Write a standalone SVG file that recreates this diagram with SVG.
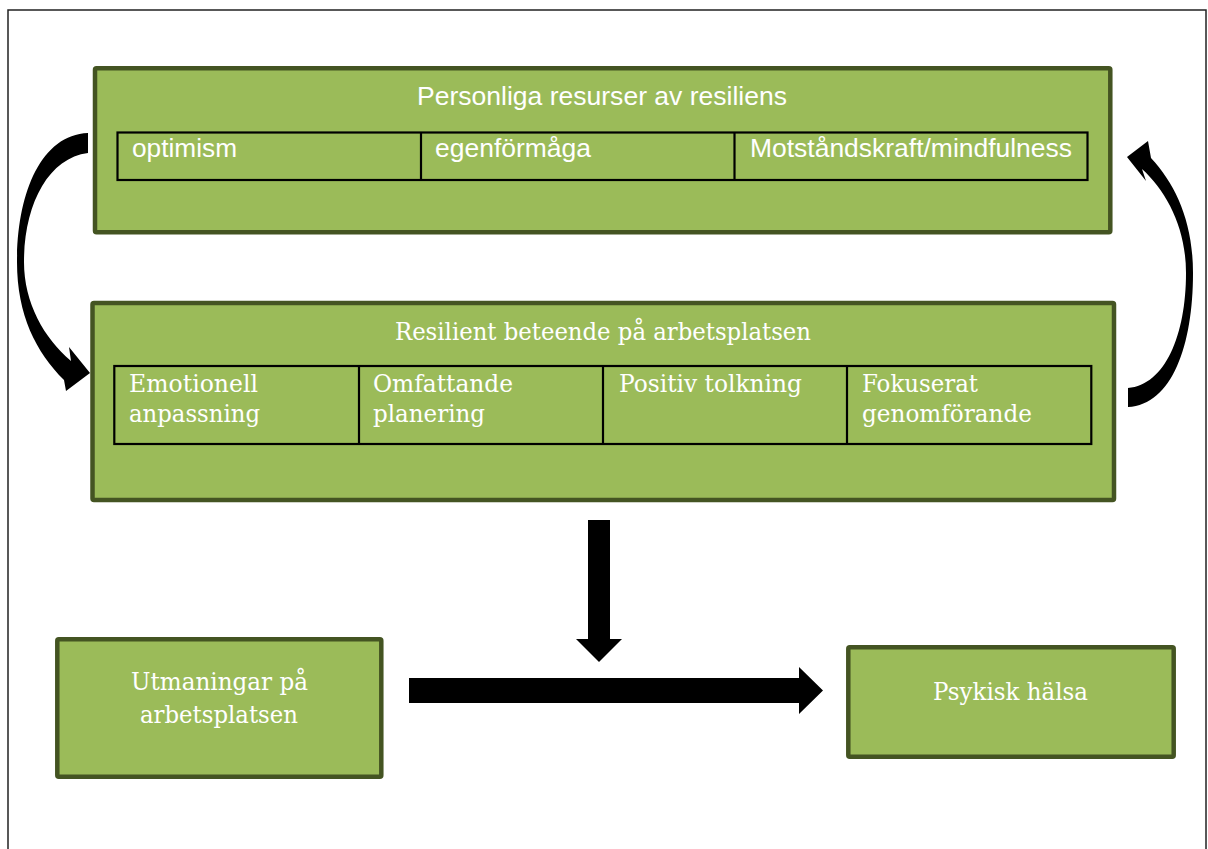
<svg xmlns="http://www.w3.org/2000/svg" width="1208" height="849" viewBox="0 0 1208 849">
<style>
.box{fill:#9BBB59;stroke:#445422;stroke-width:4.5}
.tbl{fill:none;stroke:#000;stroke-width:2.2}
.sans{font-family:"Liberation Sans",Arial,sans-serif;font-size:25px;fill:#fff}
.serif{font-family:"DejaVu Serif","Liberation Serif",serif;font-size:24px;fill:#fff}
.arr{fill:#000}
</style>
<rect x="0" y="0" width="1208" height="849" fill="#fff"/>
<rect x="8" y="10" width="1198" height="860" fill="none" stroke="#222" stroke-width="1.5"/>

<g id="personliga-resurser">
<rect class="box" x="95" y="68.3" width="1015.3" height="164" rx="1.5"/>
<text class="sans" x="417" y="105" textLength="370" lengthAdjust="spacingAndGlyphs">Personliga resurser av resiliens</text>
<rect class="tbl" x="117.5" y="132.5" width="970" height="47.5"/>
<line class="tbl" x1="421" y1="132.5" x2="421" y2="180"/>
<line class="tbl" x1="734.5" y1="132.5" x2="734.5" y2="180"/>
<text class="sans" x="132" y="157" textLength="105" lengthAdjust="spacingAndGlyphs">optimism</text>
<text class="sans" x="435" y="157" textLength="156" lengthAdjust="spacingAndGlyphs">egenförmåga</text>
<text class="sans" x="750" y="157" textLength="322" lengthAdjust="spacingAndGlyphs">Motståndskraft/mindfulness</text>
</g>

<g id="resilient-beteende">
<rect class="box" x="92.5" y="303" width="1021.5" height="197" rx="1.5"/>
<text class="serif" x="395" y="340" textLength="416" lengthAdjust="spacingAndGlyphs">Resilient beteende på arbetsplatsen</text>
<rect class="tbl" x="114.3" y="366" width="977" height="78"/>
<line class="tbl" x1="359" y1="366" x2="359" y2="444"/>
<line class="tbl" x1="603" y1="366" x2="603" y2="444"/>
<line class="tbl" x1="847" y1="366" x2="847" y2="444"/>
<text class="serif" x="129" y="392" textLength="129" lengthAdjust="spacingAndGlyphs">Emotionell</text>
<text class="serif" x="129" y="422" textLength="131" lengthAdjust="spacingAndGlyphs">anpassning</text>
<text class="serif" x="373" y="392" textLength="140" lengthAdjust="spacingAndGlyphs">Omfattande</text>
<text class="serif" x="373" y="422" textLength="112" lengthAdjust="spacingAndGlyphs">planering</text>
<text class="serif" x="619" y="392" textLength="183" lengthAdjust="spacingAndGlyphs">Positiv tolkning</text>
<text class="serif" x="862" y="392" textLength="116" lengthAdjust="spacingAndGlyphs">Fokuserat</text>
<text class="serif" x="862" y="422" textLength="170" lengthAdjust="spacingAndGlyphs">genomförande</text>
</g>

<g id="utmaningar">
<rect class="box" x="57.3" y="639.3" width="324" height="137.4" rx="1.5"/>
<text class="serif" x="131" y="690" textLength="177" lengthAdjust="spacingAndGlyphs">Utmaningar på</text>
<text class="serif" x="140" y="723" textLength="158" lengthAdjust="spacingAndGlyphs">arbetsplatsen</text>
</g>

<g id="psykisk-halsa">
<rect class="box" x="848.3" y="647.3" width="325.4" height="109.4" rx="1.5"/>
<text class="serif" x="933" y="700" textLength="155" lengthAdjust="spacingAndGlyphs">Psykisk hälsa</text>
</g>

<g id="connectors">
<path class="arr" d="M88,133 C40,135 17,195 17,262 C17,315 36,352 64,380 L66,391 L90,373 L69,347 L71,361 C44,338 24,303 24,262 C24,205 48,158 88,153 Z"/>
<path class="arr" d="M1128,407 C1172,405 1193,345 1193,273 C1193,222 1176,185 1151,158 L1148,141 L1127,157 L1146,181 L1142,169 C1167,192 1186,228 1186,273 C1186,335 1165,385 1128,388 Z"/>
<polygon class="arr" points="588,520 610,520 610,639 622,639 599,662 576,639 588,639"/>
<polygon class="arr" points="409,678 799,678 799,667 823,690.5 799,714 799,703 409,703"/>
</g>
</svg>
